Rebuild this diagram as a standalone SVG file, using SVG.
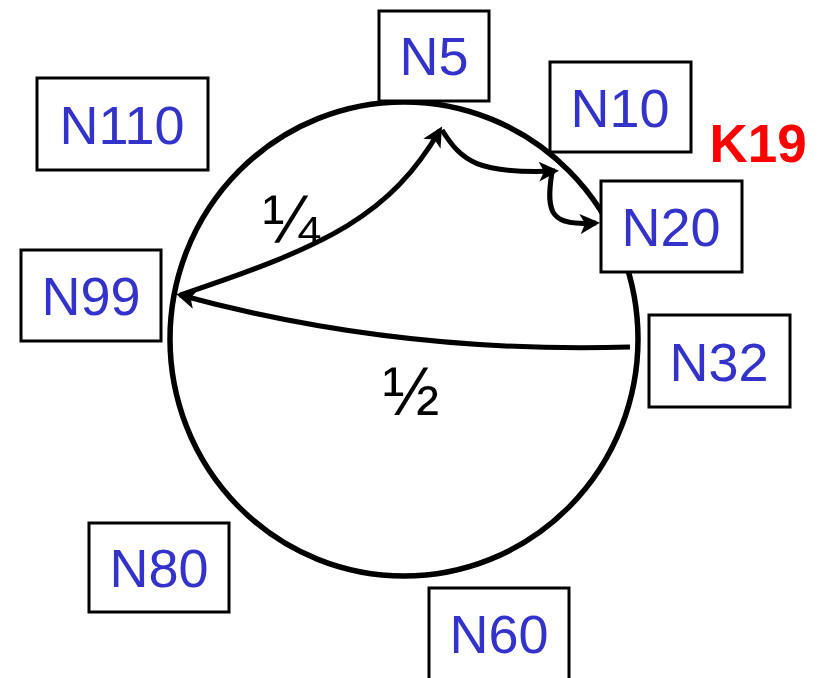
<svg xmlns="http://www.w3.org/2000/svg" width="825" height="678" viewBox="0 0 825 678">
<style>
.box{fill:#fff;stroke:#000;stroke-width:3}
.lbl{font-family:"Liberation Sans",Arial,sans-serif;font-size:54px;fill:#3333cc;text-anchor:middle}
.edge{fill:none;stroke:#000;stroke-width:5}
.frac{font-family:"Liberation Sans",Arial,sans-serif;font-size:68px;fill:#000;text-anchor:middle}
</style>
<defs>
<marker id="ah" viewBox="0 0 10 10" refX="8" refY="5" markerWidth="4.2" markerHeight="4" markerUnits="strokeWidth" orient="auto">
<path d="M0,0 L10,5 L0,10 L2.5,5 Z" fill="#000"/>
</marker>
</defs>
<rect width="825" height="678" fill="#fff"/>
<ellipse cx="404" cy="339" rx="234" ry="237" fill="none" stroke="#000" stroke-width="5.5"/>
<g id="connectors">
<path class="edge" d="M630,347 Q396,354 180,295" marker-end="url(#ah)"/>
<path class="edge" d="M180,295 C330,245 390,215 440,130" marker-end="url(#ah)"/>
<path class="edge" d="M442,130 C462,162 478,174 555,171" marker-end="url(#ah)"/>
<path class="edge" d="M552,172 C545,215 552,226 596,223" marker-end="url(#ah)"/>
<text class="frac" x="291" y="243">¼</text>
<text class="frac" x="411" y="415">½</text>
</g>
<g id="N5"><rect class="box" x="379" y="11" width="110" height="90"/><text class="lbl" x="434" y="75">N5</text></g>
<g id="N10"><rect class="box" x="550" y="62" width="141" height="90"/><text class="lbl" x="620" y="127">N10</text></g>
<g id="N20"><rect class="box" x="601" y="181" width="141" height="91"/><text class="lbl" x="671" y="246">N20</text></g>
<g id="N32"><rect class="box" x="649" y="315" width="141" height="92"/><text class="lbl" x="719" y="381">N32</text></g>
<g id="N60"><rect class="box" x="429" y="588" width="140" height="95"/><text class="lbl" x="499" y="653">N60</text></g>
<g id="N80"><rect class="box" x="89" y="523" width="140" height="89"/><text class="lbl" x="159" y="587">N80</text></g>
<g id="N99"><rect class="box" x="21" y="250" width="140" height="91"/><text class="lbl" x="91" y="315">N99</text></g>
<g id="N110"><rect class="box" x="37" y="78" width="171" height="92"/><text class="lbl" x="122" y="144">N110</text></g>
<g id="K19"><text x="758" y="162" font-family="'Liberation Sans',Arial,sans-serif" font-weight="bold" font-size="53" fill="#ff0000" text-anchor="middle">K19</text></g>
</svg>
